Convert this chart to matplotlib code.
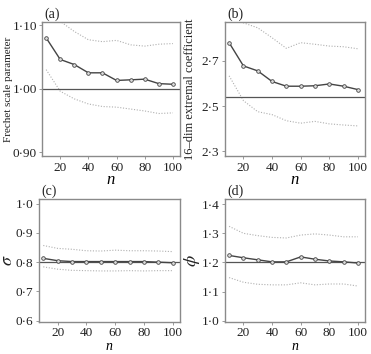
import matplotlib
matplotlib.use("Agg")
import matplotlib.pyplot as plt
from matplotlib.ticker import FixedLocator, FixedFormatter

plt.rcParams['font.family'] = ['Liberation Serif', 'DejaVu Serif']
plt.rcParams['mathtext.fontset'] = 'stix'

n = [10, 20, 30, 40, 50, 60, 70, 80, 90, 100]

# (a) Frechet scale parameter
a_est = [1.080, 1.046, 1.038, 1.025, 1.025, 1.013, 1.014, 1.015, 1.008, 1.007]
a_up = [1.135, 1.106, 1.090, 1.077, 1.074, 1.076, 1.069, 1.067, 1.070, 1.071]
a_lo = [1.030, 0.996, 0.984, 0.976, 0.972, 0.971, 0.968, 0.965, 0.961, 0.962]
a_true = 1.00
a_ticks = [0.90, 1.00, 1.10]
a_labels = ['0·90', '1·00', '1·10']

# (b) 16-dim extremal coefficient
b_est = [2.781, 2.678, 2.656, 2.609, 2.588, 2.588, 2.590, 2.598, 2.588, 2.573]
b_up = [2.93, 2.869, 2.847, 2.803, 2.756, 2.781, 2.774, 2.766, 2.763, 2.754]
b_lo = [2.634, 2.524, 2.475, 2.462, 2.435, 2.424, 2.432, 2.421, 2.416, 2.412]
b_true = 2.54
b_ticks = [2.3, 2.5, 2.7]
b_labels = ['2·3', '2·5', '2·7']

# (c) sigma
c_est = [0.813, 0.805, 0.802, 0.802, 0.802, 0.802, 0.802, 0.802, 0.800, 0.798]
c_up = [0.857, 0.847, 0.844, 0.839, 0.838, 0.841, 0.839, 0.839, 0.838, 0.836]
c_lo = [0.784, 0.776, 0.772, 0.771, 0.770, 0.770, 0.771, 0.770, 0.771, 0.771]
c_true = 0.80
c_ticks = [0.6, 0.7, 0.8, 0.9, 1.0]
c_labels = ['0·6', '0·7', '0·8', '0·9', '1·0']

# (d) phi
d_est = [1.224, 1.216, 1.209, 1.202, 1.202, 1.219, 1.211, 1.205, 1.202, 1.198]
d_up = [1.324, 1.300, 1.292, 1.286, 1.284, 1.294, 1.298, 1.294, 1.288, 1.288]
d_lo = [1.148, 1.132, 1.125, 1.123, 1.123, 1.130, 1.123, 1.126, 1.126, 1.119]
d_true = 1.20
d_ticks = [1.0, 1.1, 1.2, 1.3, 1.4]
d_labels = ['1·0', '1·1', '1·2', '1·3', '1·4']

x_ticks = [20, 40, 60, 80, 100]

fig = plt.figure(figsize=(3.71, 3.54), dpi=100)

panels = [
    ((0.113, 0.559, 0.372, 0.379), a_est, a_up, a_lo, a_true, a_ticks, a_labels, (0.894, 1.105),
     'Frechet scale parameter', '(a)', 8, -0.2065, False, 1.0),
    ((0.606, 0.559, 0.378, 0.379), b_est, b_up, b_lo, b_true, b_ticks, b_labels, (2.278, 2.873),
     '16\u2013dim extremal coefficient', '(b)', 9, -0.205, False, 1.5),
    ((0.105, 0.090, 0.380, 0.348), c_est, c_up, c_lo, c_true, c_ticks, c_labels, (0.595, 1.016),
     r'$\sigma$', '(c)', 13, -0.16, True, 1.5),
    ((0.606, 0.090, 0.378, 0.348), d_est, d_up, d_lo, d_true, d_ticks, d_labels, (0.995, 1.418),
     r'$\phi$', '(d)', 13, -0.16, True, 1.5),
]

grey = '#8a8a8a'
for rect, est, up, lo, true, yt, yl, ylim, ylab, title, lfs, ylx, bottom, ypad in panels:
    ax = fig.add_axes(rect)
    ax.plot(n, up, color='#b0b0b0', lw=0.8, ls=(0, (1, 1.5)))
    ax.plot(n, lo, color='#b0b0b0', lw=0.8, ls=(0, (1, 1.5)))
    ax.axhline(true, color='#555555', lw=0.9)
    ax.plot(n, est, color='#444444', lw=1.0, marker='o', ms=2.6,
            mfc='#dddddd', mec='#444444', mew=0.6)
    ax.set_xlim(7, 105)
    ax.set_ylim(*ylim)
    ax.yaxis.set_major_locator(FixedLocator(yt))
    ax.yaxis.set_major_formatter(FixedFormatter(yl))
    ax.set_xticks(x_ticks)
    ax.set_xticklabels([str(v) for v in x_ticks])
    for s in ax.spines.values():
        s.set_color(grey)
        s.set_linewidth(1.0)
    ax.tick_params(direction='out', length=2.5, width=0.6, color=grey,
                   labelsize=9.5, labelcolor='#222222', pad=1.5)
    ax.tick_params(axis='y', pad=ypad)
    if bottom:
        ax.tick_params(axis='x', pad=1.0)
        ax.set_xlabel('n', fontstyle='italic', fontsize=10)
        ax.xaxis.set_label_coords(0.5, -0.145)
    else:
        ax.set_xlabel('n', fontstyle='italic', fontsize=12, labelpad=-1)
    ax.set_ylabel(ylab, fontsize=lfs, color='#222222')
    ax.yaxis.set_label_coords(ylx, 0.5)
    ax.text(0.02, 1.01, title, transform=ax.transAxes, fontsize=10,
            ha='left', va='bottom', color='#222222')

fig.savefig('out.png', dpi=100)
